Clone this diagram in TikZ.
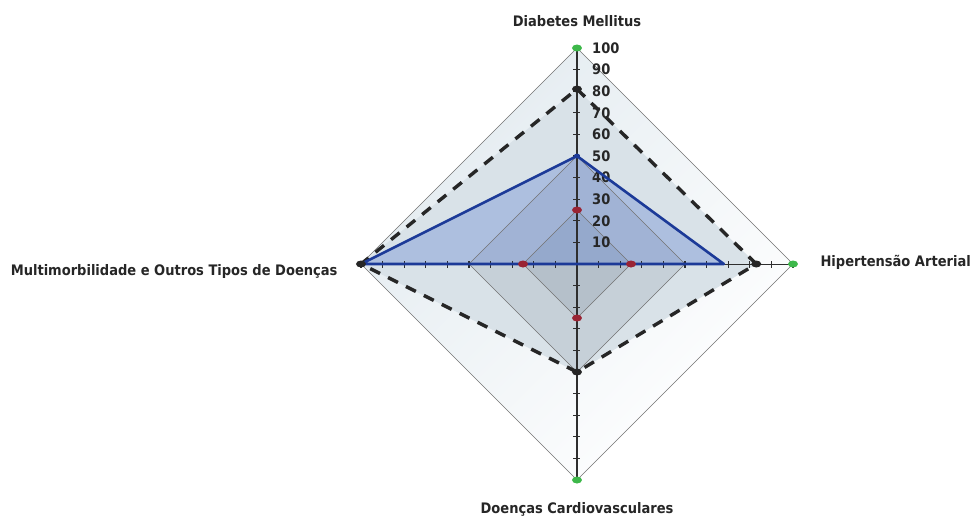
\documentclass[tikz,border=0pt]{standalone}
\usepackage{fontspec}
\setmainfont{DejaVu Sans Condensed}
\usetikzlibrary{shapes.geometric,positioning}
\definecolor{outerfill}{HTML}{E3EBF0}
\definecolor{dashfill}{HTML}{D9E2E8}
\definecolor{halffill}{HTML}{C6D0D8}
\definecolor{quartfill}{HTML}{B5C0CA}
\definecolor{serieblue}{HTML}{1C3A98}
\definecolor{bluefill}{HTML}{5C7FD0}
\definecolor{markgreen}{HTML}{3DB84A}
\definecolor{markred}{HTML}{9A2434}
\definecolor{axisgrey}{HTML}{2E2E2E}
\definecolor{labelgrey}{HTML}{262626}

\tikzset{
  gridline/.style={draw=black!55, line width=0.6pt},
  axisline/.style={draw=axisgrey, line width=1.4pt},
  dashline/.style={draw=black!85, line width=3.4pt, dash pattern=on 11pt off 9pt},
  blueline/.style={draw=serieblue, line width=2.6pt, line join=round},
  dot/.style={shape=ellipse, minimum width=10pt, minimum height=7pt, inner sep=0pt},
  catlabel/.style={font=\bfseries\fontsize{14.5}{16}\selectfont, text=labelgrey},
  ticklabel/.style={font=\bfseries\fontsize{14.5}{16}\selectfont, text=labelgrey, anchor=west, inner sep=0pt}
}

\begin{document}
\begin{tikzpicture}[x=1pt, y=1pt]
  \useasboundingbox (-577,-256) rectangle (395,264);
  \def\R{2.16}

  % outer diamond (100)
  \shade[top color=outerfill, bottom color=white, shading angle=45]
    (90:100*\R) -- (0:100*\R) -- (270:100*\R) -- (180:100*\R) -- cycle;
  % dashed series
  \fill[dashfill] (90:81*\R) -- (0:83*\R) -- (270:50*\R) -- (180:100*\R) -- cycle;
  % 50 and 25 series
  \fill[halffill] (90:50*\R) -- (0:50*\R) -- (270:50*\R) -- (180:50*\R) -- cycle;
  \fill[quartfill] (90:25*\R) -- (0:25*\R) -- (270:25*\R) -- (180:25*\R) -- cycle;
  % blue series
  \fill[bluefill, opacity=0.35] (90:50*\R) -- (0:68*\R) -- (0,0) -- (180:100*\R) -- cycle;

  % grid lines
  \foreach \v in {25,50,100}
    \draw[gridline] (90:\v*\R) -- (0:\v*\R) -- (270:\v*\R) -- (180:\v*\R) -- cycle;

  % axes with ticks
  \draw[axisline] (0,-100*\R) -- (0,100*\R);
  \draw[axisline, line width=1pt] (-100*\R,0) -- (100*\R,0);
  \foreach \v in {-100,-90,...,100} {
    \draw[axisgrey, line width=1.2pt] (-3.5,\v*\R) -- (3.5,\v*\R);
    \draw[axisgrey, line width=1.2pt] (\v*\R,-3.5) -- (\v*\R,3.5);
  }
  \foreach \v in {10,20,...,100}
    \node[ticklabel] at (15,\v*\R) {\v};

  % series lines
  \draw[dashline] (90:81*\R) -- (0:83*\R) -- (270:50*\R) -- (180:100*\R) -- cycle;
  \draw[blueline] (90:50*\R) -- (0:68*\R) -- (0,0) -- (180:100*\R) -- cycle;

  % markers
  \node[dot, fill=markgreen] (dm) at (90:100*\R) {};
  \node[dot, fill=markgreen] (ha) at (0:100*\R) {};
  \node[dot, fill=markgreen] (dc) at (270:100*\R) {};
  \node[dot, fill=black!85] (mo) at (180:100*\R) {};
  \foreach \a/\v in {90/81,0/83,270/50}
    \node[dot, fill=black!85] at (\a:\v*\R) {};
  \foreach \a in {0,90,180,270}
    \node[dot, fill=markred] at (\a:25*\R) {};
  \node[dot, fill=serieblue, minimum width=6pt, minimum height=5pt] at (90:50*\R) {};

  % category labels
  \node[catlabel, above=14pt of dm] (dmlabel) {Diabetes Mellitus};
  \node[catlabel, anchor=west] (halabel) at (240,2) {Hipertensão Arterial};
  \node[catlabel, below=15pt of dc] (dclabel) {Doenças Cardiovasculares};
  \node[catlabel, anchor=east] (molabel) at (-236,-7) {Multimorbilidade e Outros Tipos de Doenças};
\end{tikzpicture}
\end{document}
